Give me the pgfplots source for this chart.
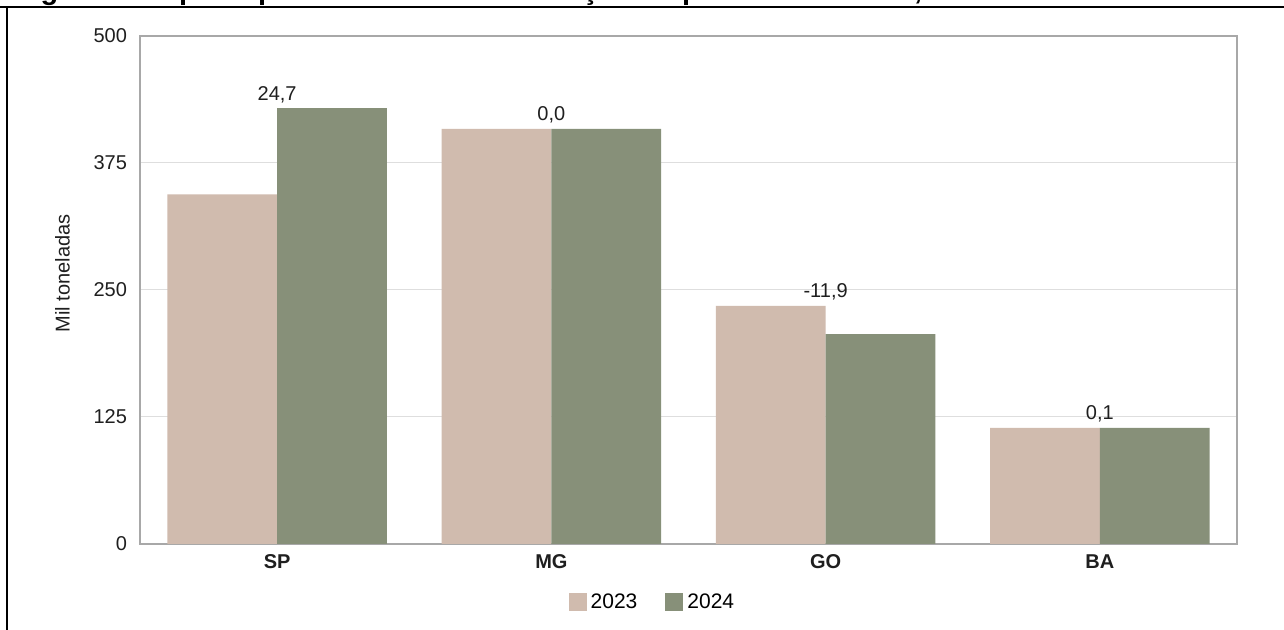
\documentclass[border=0pt]{standalone}
\usepackage{pgfplots}
\pgfplotsset{compat=1.18}
\usepackage{fontspec}
\setmainfont{Liberation Sans}
\definecolor{c23}{HTML}{D0BBAE}
\definecolor{c24}{HTML}{879079}
\definecolor{gridc}{HTML}{DEDEDE}
\definecolor{axc}{HTML}{A8A8A8}
\definecolor{txt}{HTML}{1F1F1F}
\begin{document}
\begin{tikzpicture}
\useasboundingbox (0,0) rectangle (642pt,315pt);
\fill[white] (0,0) rectangle (642pt,315pt);
\node[anchor=base west, font=\bfseries\fontsize{14.5}{16}\selectfont, inner sep=0] at (4pt,315.4pt) {segundo os principais Estados de fabricação de produtos - Brasil, 2023/2024};
\draw[black, line width=1pt] (0,311.5pt) -- (642pt,311.5pt);
\draw[black, line width=1pt] (3.5pt,0) -- (3.5pt,312pt);
\begin{axis}[
 at={(70pt,43pt)}, anchor=south west,
 scale only axis, width=548.5pt, height=254pt,
 xmin=-0.5, xmax=3.5, ymin=0, ymax=500,
 xtick={0,1,2,3}, xticklabels={SP,MG,GO,BA},
 ytick={0,125,250,375,500},
 ymajorgrids, grid style={gridc, line width=0.5pt},
 axis line style={axc, line width=0.6pt},
 major tick length=0pt,
 tick style={draw=none},
 /pgf/number format/assume math mode=true,
 xticklabel style={font=\bfseries\fontsize{10}{12}\selectfont, text=txt, text height=7.4pt, text depth=0pt, yshift=-1.5pt},
 yticklabel style={font=\fontsize{10}{12}\selectfont, text=txt, xshift=-3pt},
 ylabel={Mil toneladas},
 every axis y label/.style={at={(axis description cs:-0.0707,0.533)}, rotate=90, anchor=center, font=\fontsize{10}{12}\selectfont, text=txt},
 legend columns=2,
 legend style={draw=none, fill=none, at={(axis description cs:0.468,-0.115)}, anchor=center, font=\fontsize{10.5}{12}\selectfont, /tikz/every even column/.append style={column sep=12pt}},
]
\addplot[ybar, bar width=0.4, bar shift=-0.2, fill=c23, draw=none,
  legend image code/.code={\fill[c23] (0pt,-4.5pt) rectangle (9pt,4.5pt);}]
  coordinates {(0,344) (1,408.5) (2,234.3) (3,114.2)};
\addlegendentry{2023}
\addplot[ybar, bar width=0.4, bar shift=0.2, fill=c24, draw=none,
  legend image code/.code={\fill[c24] (0pt,-4.5pt) rectangle (9pt,4.5pt);}]
  coordinates {(0,429) (1,408.5) (2,206.5) (3,114.3)};
\addlegendentry{2024}
\addplot[draw=none, mark=none, forget plot, nodes near coords, point meta=explicit symbolic,
  nodes near coords style={font=\fontsize{10}{12}\selectfont, text=txt, anchor=south, inner sep=2.5pt}]
  table[x=x, y=y, meta=lab] {
x y lab
0 429 24,7
1 408.5 0,0
2 234.3 -11,9
3 114.3 0,1
};
\end{axis}
\end{tikzpicture}
\end{document}
